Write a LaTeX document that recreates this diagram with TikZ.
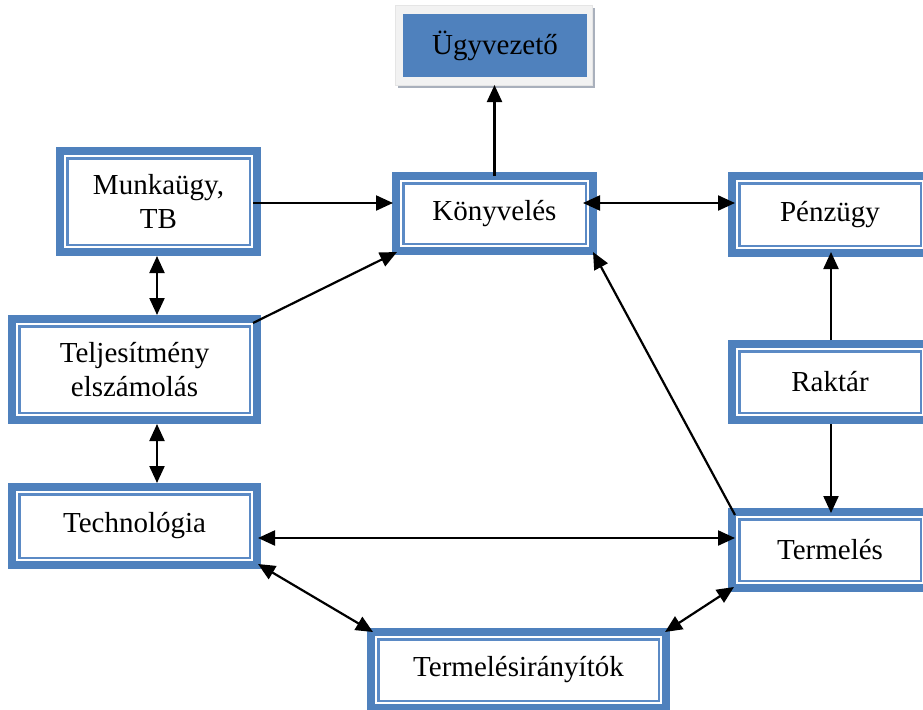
\documentclass[tikz,border=0pt]{standalone}
\usepackage{fontspec}
\setmainfont{Liberation Serif}
\usetikzlibrary{calc,arrows.meta}
\definecolor{bblue}{HTML}{4F81BD}
\definecolor{tblue}{HTML}{5B8AC5}
\definecolor{framegray}{HTML}{F2F2F2}
\definecolor{shadowgray}{HTML}{A9B0BC}
\tikzset{
  unit/.style={draw=bblue, line width=8pt, fill=white, outer sep=0pt, inner sep=0pt,
    align=center, font=\fontsize{29}{34}\selectfont},
  tip/.tip={Triangle[length=17pt,width=15pt]},
  conn/.style={line width=2.2pt, -tip},
  dconn/.style={line width=2.2pt, tip-tip},
}
\begin{document}
\begin{tikzpicture}[x=1pt,y=-1pt]
\useasboundingbox (0,0) rectangle (923,709);
\clip (0,0) rectangle (923,709);
% Ugyvezeto
\fill[shadowgray] (398,8) rectangle (595,88);
\node[fill=framegray, draw=black!10, line width=0.6pt, minimum width=197pt, minimum height=80pt, inner sep=0pt, outer sep=0pt] (ugyf) at (493.5,45) {};
\node[fill=bblue, minimum width=184pt, minimum height=63pt, inner sep=0pt, outer sep=0pt, font=\fontsize{29}{34}\selectfont] (ugy) at (495,45.5) {Ügyvezető};
% units (size = outer size - 8)
\node[unit, minimum width=197pt, minimum height=101pt] (mk) at (158.5,201.5) {Munkaügy,\\TB};
\node[unit, minimum width=197pt, minimum height=75pt] (kv) at (494.5,213.5) {Könyvelés};
\node[unit, minimum width=196pt, minimum height=77pt] (pz) at (830,214.5) {Pénzügy};
\node[unit, minimum width=245pt, minimum height=101pt] (tj) at (134.5,369.5) {Teljesítmény\\elszámolás};
\node[unit, minimum width=196pt, minimum height=76pt] (rk) at (830,382) {Raktár};
\node[unit, minimum width=245pt, minimum height=78pt] (tc) at (134.5,526) {Technológia};
\node[unit, minimum width=196pt, minimum height=76pt] (tm) at (830,550) {Termelés};
\node[unit, minimum width=295pt, minimum height=76pt] (ti) at (518.5,670) {Termelésirányítók};
\foreach \n in {mk,kv,pz,tj,rk,tc,tm,ti}{
  \draw[tblue, line width=2.5pt] ($(\n.north west)+(7.25,7.25)$) rectangle ($(\n.south east)+(-7.25,-7.25)$);
}
% connectors
\draw[conn] (kv.north) -- (kv.north |- ugyf.south);
\draw[conn] ($(mk.east)+(-4,1.5)$) -- ($(kv.west)+(-3,-10.5)$);
\draw[dconn] ($(kv.east)+(-10,-10.5)$) -- ($(pz.west)+(3,-11.5)$);
\draw[dconn] ($(mk.south)+(-1.5,4)$) -- ($(tj.north)+(22.5,-4)$);
\draw[conn] ($(tj.north east)+(-4,4)$) -- ($(kv.south west)+(1,1)$);
\draw[dconn] ($(tj.south)+(22.5,4)$) -- ($(tc.north)+(22.5,-4)$);
\draw[dconn] ($(tc.east)+(1,12)$) -- ($(tm.west)+(3,-12)$);
\draw[dconn] ($(tc.south east)+(1,-1)$) -- ($(ti.north west)+(2,0)$);
\draw[dconn] ($(ti.north east)+(-1,0)$) -- ($(tm.south west)+(2,-1)$);
\draw[conn] ($(tm.north west)+(3,3)$) -- ($(kv.south east)+(0,1)$);
\draw[conn] ($(rk.north)+(1,-4)$) -- ($(pz.south)+(1,-1)$);
\draw[conn] ($(rk.south)+(1,4)$) -- ($(tm.north)+(1,1)$);
\end{tikzpicture}
\end{document}
